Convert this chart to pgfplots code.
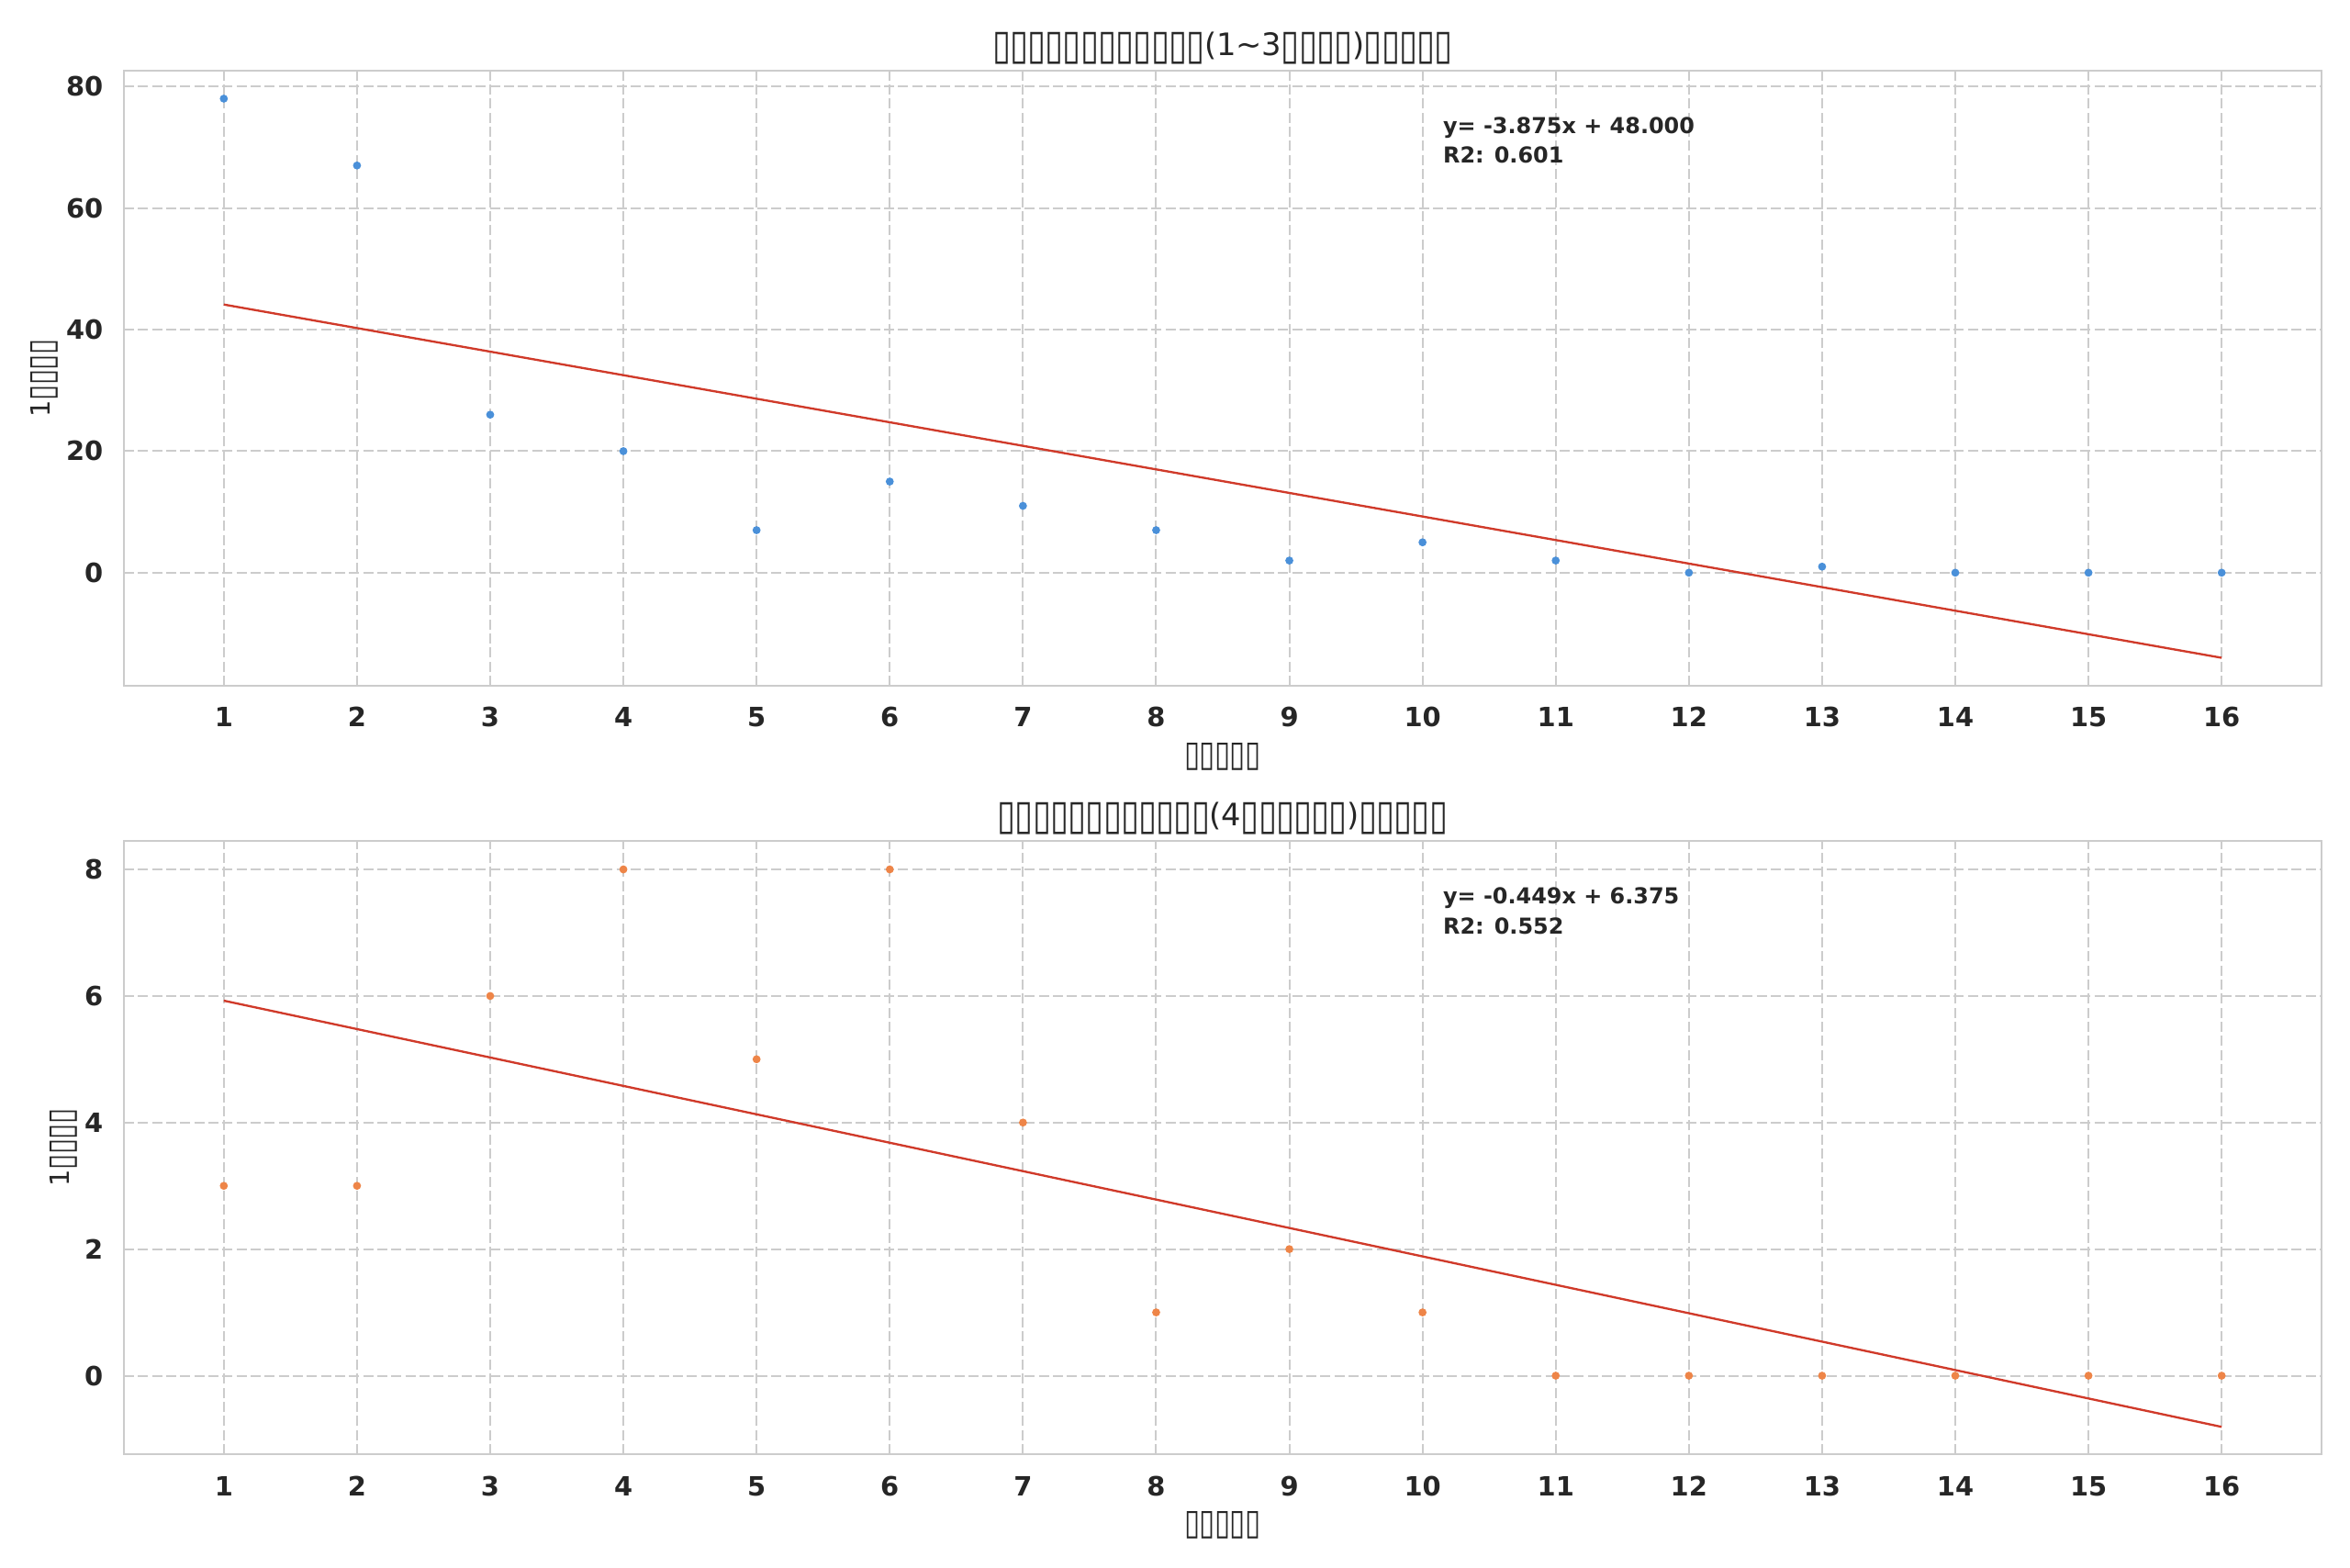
\documentclass[border=0pt]{standalone}
\usepackage{fontspec}
\setmainfont{DejaVu Sans}
\usepackage{graphicx}
\usepackage{pgfplots}
\pgfplotsset{compat=1.18}

\definecolor{gridc}{HTML}{CCCCCC}
\definecolor{txt}{HTML}{262626}
\definecolor{ptblue}{HTML}{4A90D9}
\definecolor{ptorange}{HTML}{EE8548}
\definecolor{fitred}{HTML}{D03A2A}

\newcommand{\tofu}{\makebox[0.57em][c]{\raisebox{-0.12em}{\scalebox{1.08}[1.35]{▯}}}}

\pgfplotsset{mystyle/.style={
  scale only axis, width=718.2bp,
  xmin=0.25, xmax=16.75, xtick={1,...,16},
  axis line style={draw=gridc, line width=0.75bp},
  grid=major,
  major grid style={draw=gridc, line width=0.6bp, dash pattern=on 3.3bp off 1.3bp},
  major tick length=0pt,
  tick label style={font=\fontsize{8.7}{10}\selectfont\bfseries, text=txt, inner sep=0pt},
  /pgf/number format/assume math mode=true,
  xticklabel style={anchor=base, yshift=-13.5bp},
  yticklabel style={anchor=east, xshift=-6.6bp},
  label style={font=\fontsize{8.7}{10}\selectfont, text=txt, inner sep=0pt},
  every axis title shift=0pt,
  title style={font=\fontsize{10.15}{12}\selectfont, text=txt, inner sep=0pt,
    at={(axis description cs:0.5,1)}, anchor=base, yshift=5.1bp},
  xlabel style={at={(axis description cs:0.5,-0.1254)}, anchor=base},
}}

\begin{document}
\begin{tikzpicture}
\path[use as bounding box] (0,0) rectangle (768bp,512.1bp);

\begin{axis}[mystyle, height=201bp,
  at={(40.5bp,288bp)}, anchor=south west,
  ymin=-18.6, ymax=82.6, ytick={0,20,40,60,80},
  title={\tofu\tofu\tofu\tofu\tofu\tofu\tofu\tofu\tofu\tofu\tofu\tofu(1\textasciitilde3\tofu\tofu\tofu\tofu)\tofu\tofu\tofu\tofu\tofu},
  xlabel={\tofu\tofu\tofu\tofu\tofu},
  ylabel={1\tofu\tofu\tofu\tofu},
  ylabel style={at={(axis description cs:-0.0363,0.5)}, anchor=center},
]
\addplot[only marks, mark=*, mark size=1.1bp, mark options={draw=ptblue, fill=ptblue}]
  coordinates {(1,78) (2,67) (3,26) (4,20) (5,7) (6,15) (7,11) (8,7) (9,2) (10,5) (11,2) (12,0) (13,1) (14,0) (15,0) (16,0)};
\addplot[fitred, line width=0.7bp] coordinates {(1,44.125) (16,-14)};
\node[anchor=base west, inner sep=0pt, font=\fontsize{7.2}{9}\selectfont\bfseries, text=txt]
  at (rel axis cs:0.6,0.8985) {y= -3.875x + 48.000};
\node[anchor=base west, inner sep=0pt, font=\fontsize{7.2}{9}\selectfont\bfseries, text=txt]
  at (rel axis cs:0.6,0.8493) {R2: 0.601};
\end{axis}

\begin{axis}[mystyle, height=200.4bp,
  at={(40.5bp,36.9bp)}, anchor=south west,
  ymin=-1.24, ymax=8.45, ytick={0,2,4,6,8},
  title={\tofu\tofu\tofu\tofu\tofu\tofu\tofu\tofu\tofu\tofu\tofu\tofu(4\tofu\tofu\tofu\tofu\tofu\tofu)\tofu\tofu\tofu\tofu\tofu},
  xlabel={\tofu\tofu\tofu\tofu\tofu},
  ylabel={1\tofu\tofu\tofu\tofu},
  ylabel style={at={(axis description cs:-0.0276,0.5)}, anchor=center},
]
\addplot[only marks, mark=*, mark size=1.1bp, mark options={draw=ptorange, fill=ptorange}]
  coordinates {(1,3) (2,3) (3,6) (4,8) (5,5) (6,8) (7,4) (8,1) (9,2) (10,1) (11,0) (12,0) (13,0) (14,0) (15,0) (16,0)};
\addplot[fitred, line width=0.7bp] coordinates {(1,5.926) (16,-0.809)};
\node[anchor=base west, inner sep=0pt, font=\fontsize{7.2}{9}\selectfont\bfseries, text=txt]
  at (rel axis cs:0.6,0.898) {y= -0.449x + 6.375};
\node[anchor=base west, inner sep=0pt, font=\fontsize{7.2}{9}\selectfont\bfseries, text=txt]
  at (rel axis cs:0.6,0.8486) {R2: 0.552};
\end{axis}
\end{tikzpicture}
\end{document}
